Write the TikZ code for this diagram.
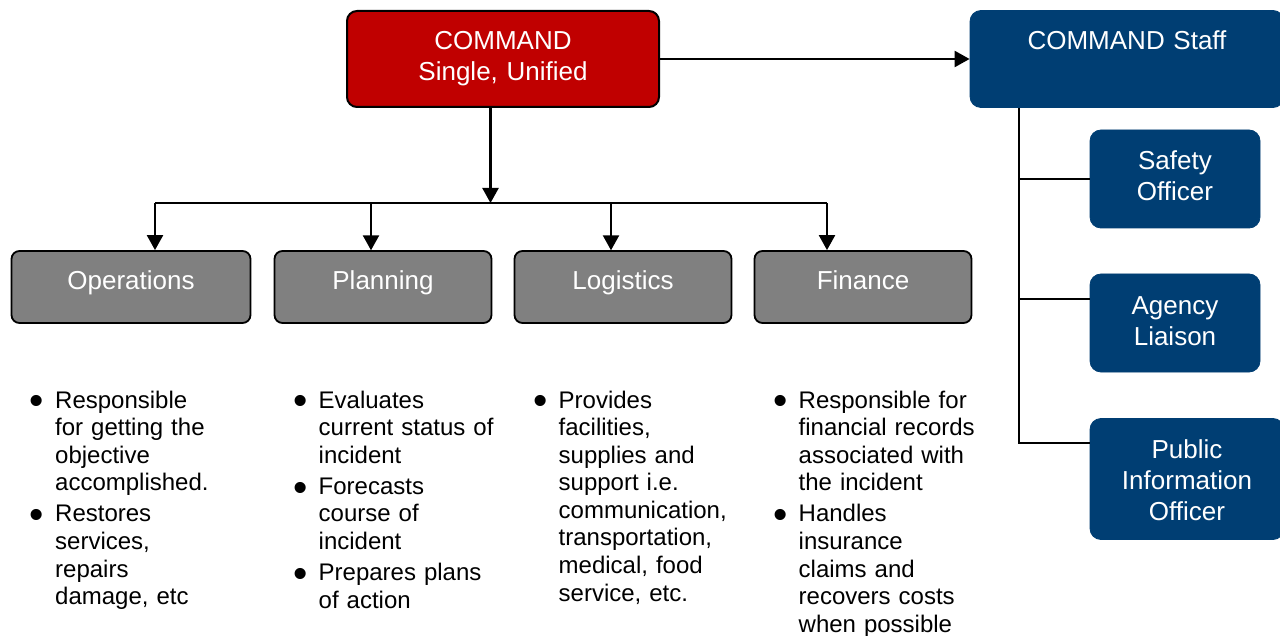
\documentclass[tikz,border=0pt]{standalone}
\usepackage{fontspec}
\usepackage{graphicx}
\setmainfont{Liberation Sans}
\usetikzlibrary{arrows.meta}
\definecolor{cmdred}{RGB}{192,0,0}
\definecolor{navy}{RGB}{0,62,115}
\definecolor{midgray}{RGB}{128,128,128}
\newcommand{\bul}{\makebox[0pt][r]{\raisebox{-6.8pt}{\scalebox{1.7}{\textbullet}}\hspace{11pt}}}
\tikzset{
  redbox/.style={draw=black, line width=2pt, fill=cmdred, rounded corners=10pt, inner sep=0},
  navybox/.style={draw=navy, line width=0.8pt, fill=navy, rounded corners=11pt, inner sep=0},
  graybox/.style={draw=black, line width=1.8pt, fill=midgray, rounded corners=8pt, inner sep=0, minimum height=72pt},
  boxtext/.style={text=white, font=\fontsize{26}{31}\selectfont, align=center, text width=300pt, anchor=base, inner sep=0},
  bullettext/.style={text=black, font=\fontsize{24}{27.6}\selectfont, align=left, text width=220pt, anchor=base west, inner sep=0},
  conn/.style={line width=2.3pt, draw=black},
  arr/.style={conn, -{Triangle[length=15pt, width=16pt]}},
}
\begin{document}
\begin{tikzpicture}[x=1pt, y=-1pt]
\clip (0,0) rectangle (1280,636);
\fill[white] (0,0) rectangle (1280,636);
% boxes
\node[redbox, minimum width=312pt, minimum height=96pt] (cmd) at (503,59) {};
\node[navybox, minimum width=314pt, minimum height=97pt] (staff) at (1127,59) {};
\node[navybox, minimum width=170pt, minimum height=98pt] (safety) at (1175,179) {};
\node[navybox, minimum width=170pt, minimum height=98pt] (agency) at (1175,323) {};
\node[navybox, minimum width=194pt, minimum height=121pt] (pio) at (1187,479) {};
\node[graybox, minimum width=239pt] (ops) at (131,287) {};
\node[graybox, minimum width=217pt] (plan) at (383,287) {};
\node[graybox, minimum width=217pt] (log) at (623,287) {};
\node[graybox, minimum width=217pt] (fin) at (863,287) {};
% box texts
\node[boxtext] (cmdt) at (503,50) {COMMAND\\Single, Unified};
\node[boxtext] (stafft) at (1127,50) {COMMAND Staff};
\node[boxtext] (safetyt) at (1175,169.5) {Safety\\Officer};
\node[boxtext] (agencyt) at (1175,314.5) {Agency\\Liaison};
\node[boxtext] (piot) at (1187,458) {Public\\Information\\Officer};
\node[boxtext] (opst) at (131,290) {Operations};
\node[boxtext] (plant) at (383,290) {Planning};
\node[boxtext] (logt) at (623,290) {Logistics};
\node[boxtext] (fint) at (863,290) {Finance};
% connectors
\coordinate (bus) at (490.5,203);
\coordinate (busL) at (155,203);
\coordinate (busR) at (827,203);
\draw[arr] (cmd.east) -- (staff.west);
\draw[arr] (cmd.south -| bus) -- (bus);
\draw[conn] (busL) -- (busR);
\draw[arr] (busL) -- (busL |- ops.north);
\draw[arr] (371,203) -- (371,250.3);
\draw[arr] (611,203) -- (611,250.3);
\draw[arr] (busR) -- (busR |- fin.north);
\coordinate (spine) at (1019,443);
\draw[conn] (staff.south -| spine) -- (spine) -- (spine -| pio.west);
\draw[conn] (spine |- safety.west) -- (safety.west);
\draw[conn] (1019,299) -- (agency.west |- 1019,299);
% bullet lists
\node[bullettext] (opsb) at (55,408) {\bul Responsible\\for getting the\\objective\\accomplished.\\[3.5pt]\bul Restores\\services,\\repairs\\damage, etc};
\node[bullettext] (planb) at (318.5,408) {\bul Evaluates\\current status of\\incident\\[3.5pt]\bul Forecasts\\course of\\incident\\[3.5pt]\bul Prepares plans\\of action};
\node[bullettext] (logb) at (558.5,408) {\bul Provides\\facilities,\\supplies and\\support i.e.\\communication,\\transportation,\\medical, food\\service, etc.};
\node[bullettext] (finb) at (798.5,408) {\bul Responsible for\\financial records\\associated with\\the incident\\[3.5pt]\bul Handles\\insurance\\claims and\\recovers costs\\when possible};
\end{tikzpicture}
\end{document}
